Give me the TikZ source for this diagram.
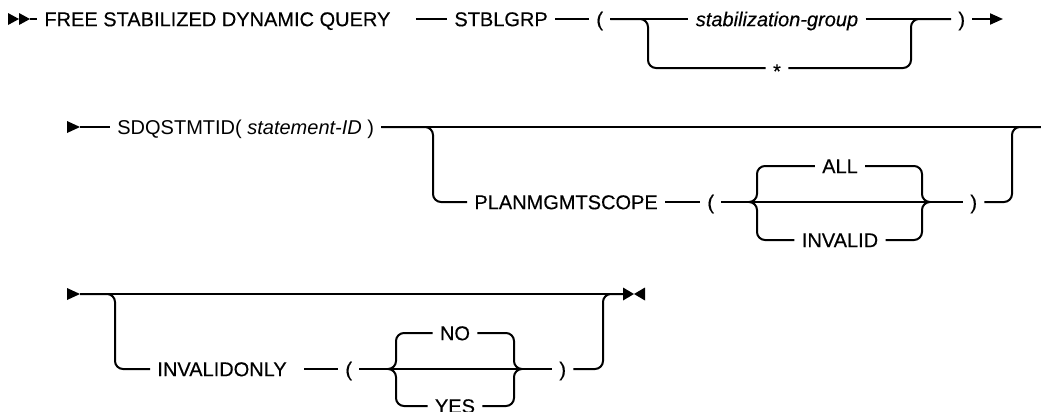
\documentclass[tikz,border=0pt]{standalone}
\usepackage{fontspec}
\setmainfont{Liberation Sans}
\newfontfamily\railfont{Liberation Sans}[FakeBold=0.35]
\usetikzlibrary{arrows.meta}
\tikzset{
    rail/.style={line width=1pt},
    branch/.style={line width=1pt,rounded corners=4pt},
    kw/.style={anchor=west,inner xsep=3.5pt,inner ysep=0pt,text height=7.2pt,text depth=0pt,font=\railfont\fontsize{10}{12}\selectfont},
    var/.style={kw,font=\railfont\fontsize{10}{12}\selectfont\itshape},
    plainkw/.style={kw,font=\rmfamily\fontsize{10}{12}\selectfont},
    railtip/.style={fill=black}
}
\begin{document}
\begin{tikzpicture}[x=0.5pt,y=-0.5pt,>={Triangle[length=6.5pt,width=5.5pt]}]
    \useasboundingbox (0,0) rectangle (1041,412);
    % Row 1
    \fill[railtip] (8,13) -- (19,19) -- (8,25) -- cycle;
    \fill[railtip] (19,13) -- (30,19) -- (19,25) -- cycle;
    \coordinate (s1) at (30,19);
    \node[kw] (free) at (37,19) {FREE STABILIZED DYNAMIC QUERY};
    \node[kw] (stbl) at (447,19) {STBLGRP};
    \node[kw] (lp1) at (589,19) {(};
    \node[var,anchor=center] (grp) at (777,19) {stabilization-group};
    \node[kw,anchor=center] (star) at (777,68) {\raisebox{-1.5pt}{*}};
    \node[kw] (rp1) at (951,19) {)};
    \coordinate (b1l) at (648,19);
    \coordinate (b1r) at (911,19);
    \coordinate (e1) at (1003,19);
    \draw[rail] (s1) -- (free.west);
    \draw[rail,shorten <=9pt] (free.east) -- (stbl.west);
    \draw[rail] (stbl.east) -- (lp1.west);
    \draw[rail] (lp1.east) -- (grp.west);
    \draw[rail] (grp.east) -- (rp1.west);
    \draw[branch] (lp1.east) -- (b1l) |- (star.west);
    \draw[branch] (star.east) -| (b1r) -- (rp1.west);
    \draw[rail,->] (rp1.east) -- (e1);
    % Row 2
    \fill[railtip] (67,121) -- (80,127) -- (67,133) -- cycle;
    \coordinate (s2) at (80,127);
    \node[plainkw] (sdq) at (110,127) {SDQSTMTID( \textit{statement-ID} )};
    \node[kw] (plan) at (467,202) {PLANMGMTSCOPE};
    \node[kw] (lp2) at (700,202) {(};
    \node[kw,anchor=center] (all) at (840,166) {ALL};
    \node[kw,anchor=center] (inv) at (840,240) {INVALID};
    \node[kw] (rp2) at (963,202) {)};
    \coordinate (b2l) at (433,127);
    \coordinate (b2r) at (1012,127);
    \coordinate (lb2) at (757,202);
    \coordinate (rb2) at (922,202);
    \coordinate (e2) at (1041,127);
    \draw[rail] (s2) -- (sdq.west);
    \draw[rail] (sdq.east) -- (e2);
    \draw[branch] (sdq.east) -- (b2l) |- (plan.west);
    \draw[rail] (plan.east) -- (lp2.west);
    \draw[rail] (lp2.east) -- (rp2.west);
    \draw[branch] (all.west) -| (lb2) -- ++(-8,0);
    \draw[branch] (inv.west) -| (lb2) -- ++(-8,0);
    \draw[branch] (all.east) -| (rb2) -- ++(8,0);
    \draw[branch] (inv.east) -| (rb2) -- ++(8,0);
    \draw[branch] (rp2.east) -| (b2r) -- (e2);
    % Row 3
    \fill[railtip] (67,288) -- (80,294) -- (67,300) -- cycle;
    \coordinate (s3) at (80,294);
    \node[kw] (ionly) at (150,369) {INVALIDONLY};
    \node[kw] (lp3) at (338,369) {(};
    \node[kw,anchor=center] (no) at (455,333) {NO};
    \node[kw,anchor=center] (yes) at (455,406) {YES};
    \node[kw] (rp3) at (552,369) {)};
    \coordinate (b3l) at (115,294);
    \coordinate (b3r) at (603,294);
    \coordinate (lb3) at (396,369);
    \coordinate (rb3) at (514,369);
    \coordinate (e3) at (623,294);
    \draw[rail] (s3) -- (e3);
    \draw[branch] (s3) -- (b3l) |- (ionly.west);
    \draw[rail,shorten <=5pt] (ionly.east) -- (lp3.west);
    \draw[rail] (lp3.east) -- (rp3.west);
    \draw[branch] (no.west) -| (lb3) -- ++(-8,0);
    \draw[branch] (yes.west) -| (lb3) -- ++(-8,0);
    \draw[branch] (no.east) -| (rb3) -- ++(8,0);
    \draw[branch] (yes.east) -| (rb3) -- ++(8,0);
    \draw[branch] (rp3.east) -| (b3r) -- (e3);
    % End
    \fill[railtip] (623,287.5) -- (634,294) -- (623,300.5) -- cycle;
    \fill[railtip] (645,287.5) -- (634,294) -- (645,300.5) -- cycle;
\end{tikzpicture}
\end{document}
